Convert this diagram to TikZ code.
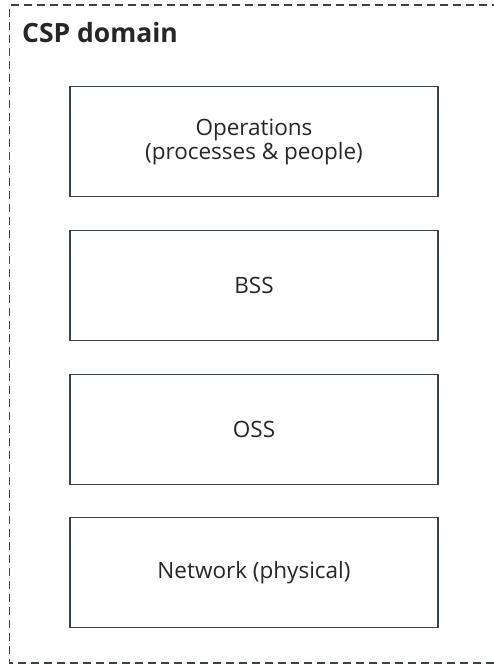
\documentclass[tikz,border=0pt]{standalone}
\usepackage{fontspec}
\setmainfont{Open Sans}
\definecolor{edge}{HTML}{3A424C}
\definecolor{ink}{HTML}{262626}
\begin{document}
\begin{tikzpicture}[x=1pt,y=1pt,
  layer/.style={draw=edge, line width=1.8pt, minimum width=368pt, minimum height=110pt,
    inner sep=0pt, align=center, text=ink, font=\fontsize{22.5}{24}\selectfont},
  frame/.style={draw=edge, line width=1.8pt, dash pattern=on 8pt off 5pt}]
  \useasboundingbox (0,0) rectangle (494,-665);
  % domain frame (open on the right)
  \draw[frame] (500,-5) -- (9.5,-5) -- (9.5,-663) -- (500,-663);
  \node[anchor=base west, inner sep=0pt, text=ink, font=\bfseries\fontsize{26.5}{28}\selectfont]
    (title) at (22,-42) {CSP domain};
  % stacked layers
  \node[layer] (ops) at (254,-141.5) {Operations\\(processes \& people)};
  \node[layer] (bss) at (254,-285.5) {BSS};
  \node[layer] (oss) at (254,-429.5) {OSS};
  \node[layer] (net) at (254,-572.5) {Network (physical)};
\end{tikzpicture}
\end{document}
